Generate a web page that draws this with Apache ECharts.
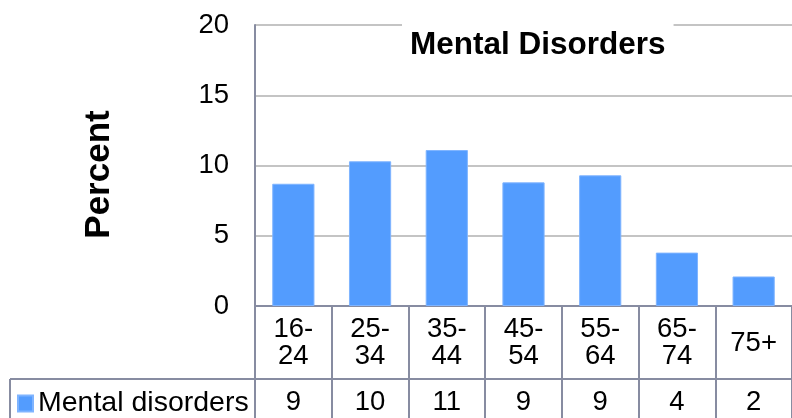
<!DOCTYPE html>
<html>
<head>
<meta charset="utf-8">
<script src="https://cdn.jsdelivr.net/npm/echarts@6/dist/echarts.min.js"></script>
<style>html,body{margin:0;padding:0;background:#fff}#c{width:792px;height:418px}</style>
</head>
<body>
<div id="c"></div>
<script>
const categories = ['16-\n24', '25-\n34', '35-\n44', '45-\n54', '55-\n64', '65-\n74', '75+'];
const seriesName = 'Mental disorders';
const values = [8.7, 10.3, 11.1, 8.8, 9.3, 3.8, 2.1];
const tableValues = [9, 10, 11, 9, 9, 4, 2];
const yTicks = [0, 5, 10, 15, 20];

const FONT = 'Liberation Sans, Arial, sans-serif';
const LINE = '#878ca1';
const chart = echarts.init(document.getElementById('c'), null, {renderer: 'canvas'});
chart.setOption({
  animation: false,
  backgroundColor: '#fff',
  textStyle: {fontFamily: FONT, color: '#000'},
  title: {
    text: 'Mental Disorders',
    left: 402, top: 23,
    padding: [6, 8],
    backgroundColor: '#fff',
    textStyle: {fontFamily: FONT, fontSize: 31.5, fontWeight: 'bold', color: '#000'}
  },
  legend: {
    data: [seriesName],
    left: 12, top: 384,
    icon: 'rect', itemWidth: 15, itemHeight: 16, itemGap: 6,
    textStyle: {fontFamily: FONT, fontSize: 28.5, color: '#000'}
  },
  grid: {left: 255, top: 25, width: 539, height: 281, containLabel: false},
  xAxis: [{
    type: 'category', data: categories, boundaryGap: true, position: 'bottom',
    axisLine: {show: true, lineStyle: {color: LINE, width: 2}},
    axisTick: {show: true, length: 73, lineStyle: {color: LINE, width: 2}},
    axisLabel: {fontFamily: FONT, fontSize: 27.5, color: '#000', lineHeight: 27, verticalAlign: 'middle', margin: 37, interval: 0}
  }, {
    type: 'category', data: tableValues.map(String), boundaryGap: true, position: 'bottom', offset: 73,
    axisLine: {show: true, lineStyle: {color: LINE, width: 2}},
    axisTick: {show: true, length: 45, lineStyle: {color: LINE, width: 2}},
    axisLabel: {fontFamily: FONT, fontSize: 27.5, color: '#000', verticalAlign: 'middle', margin: 23, interval: 0}
  }],
  yAxis: {
    type: 'value', min: 0, max: 20, interval: 5,
    name: 'Percent', nameLocation: 'middle', nameRotate: 90, nameGap: 138,
    nameTextStyle: {fontFamily: FONT, fontSize: 35, fontWeight: 'bold', color: '#000', padding: [0, 18, 0, 0]},
    axisLine: {show: true, lineStyle: {color: LINE, width: 2}},
    axisTick: {show: false},
    axisLabel: {fontFamily: FONT, fontSize: 27.5, color: '#000', margin: 26,
      formatter: v => yTicks.includes(v) ? String(v) : ''},
    splitLine: {show: true, lineStyle: {color: '#c4c4c4', width: 2}}
  },
  graphic: [
    {type: 'line', shape: {x1: 10, y1: 379, x2: 255, y2: 379}, style: {stroke: LINE, lineWidth: 2}},
    {type: 'line', shape: {x1: 10, y1: 379, x2: 10, y2: 420}, style: {stroke: LINE, lineWidth: 2}}
  ],
  series: [{
    name: seriesName, type: 'bar', data: values, xAxisIndex: 0,
    barWidth: '55%',
    itemStyle: {color: '#539cfe', borderColor: '#7fb4ff', borderWidth: 1}
  }]
});
</script>
</body>
</html>
